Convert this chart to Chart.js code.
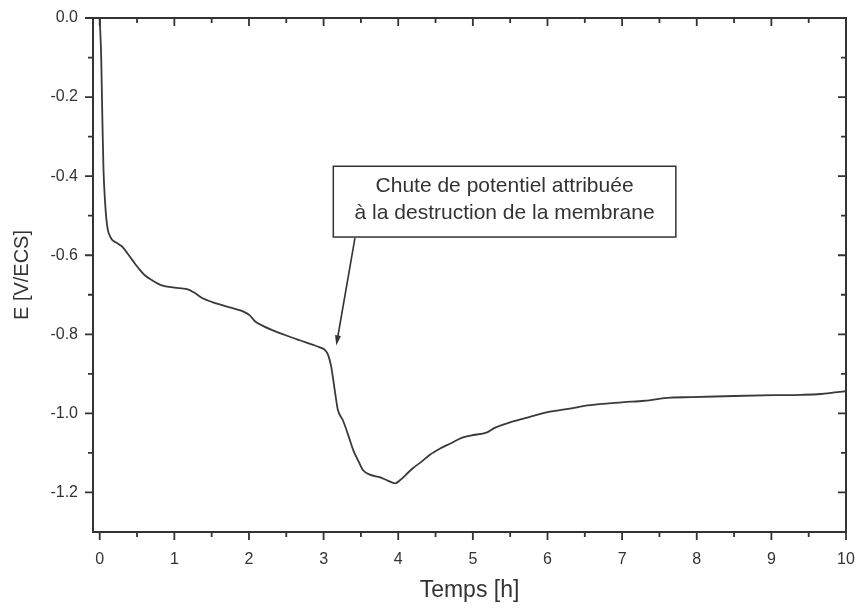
<!DOCTYPE html>
<html>
<head>
<meta charset="utf-8">
<script src="https://cdn.jsdelivr.net/npm/chart.js@4.4.0/dist/chart.umd.min.js"></script>
<style>
  html, body { margin: 0; padding: 0; background: #fff; }
  #wrap { width: 857px; height: 609px; }
</style>
</head>
<body>
<div id="wrap"><canvas id="potChart" width="857" height="609"></canvas></div>
<script>
/* potential vs time readings */
const timeH = [0.00, 0.02, 0.035, 0.05, 0.07, 0.09, 0.11, 0.14, 0.17, 0.22, 0.27, 0.31, 0.37, 0.44, 0.52, 0.60, 0.70, 0.83,
  1.00, 1.17, 1.27, 1.38, 1.50, 1.65, 1.80, 1.92, 2.01, 2.08, 2.20, 2.32, 2.50, 2.68, 2.85, 2.95, 3.02, 3.06, 3.10, 3.13,
  3.16, 3.19, 3.26, 3.33, 3.40, 3.47, 3.53, 3.62, 3.76, 3.86, 3.96, 4.03, 4.12, 4.20, 4.30, 4.42, 4.56, 4.70, 4.85, 4.97,
  5.19, 5.30, 5.46, 5.70, 6.00, 6.30, 6.54, 7.00, 7.30, 7.65, 7.92, 8.50, 9.03, 9.40, 9.66, 9.85, 10.00];
const potentialV = [0.000, -0.10, -0.25, -0.38, -0.46, -0.51, -0.537, -0.553, -0.562, -0.568, -0.574, -0.580, -0.595, -0.613,
  -0.633, -0.650, -0.663, -0.676, -0.682, -0.686, -0.695, -0.709, -0.718, -0.727, -0.735, -0.742, -0.752, -0.767, -0.780,
  -0.790, -0.803, -0.815, -0.826, -0.833, -0.840, -0.852, -0.880, -0.916, -0.955, -0.990, -1.018, -1.055, -1.094, -1.122,
  -1.144, -1.155, -1.162, -1.170, -1.177, -1.168, -1.152, -1.138, -1.124, -1.105, -1.089, -1.076, -1.062, -1.056, -1.048,
  -1.036, -1.025, -1.012, -0.997, -0.988, -0.980, -0.972, -0.968, -0.960, -0.959, -0.956, -0.954, -0.953, -0.951, -0.947,
  -0.944];

/* axis ticks */
const xMajorTicks = [0, 1, 2, 3, 4, 5, 6, 7, 8, 9, 10];
const xMinorTicks = [0.5, 1.5, 2.5, 3.5, 4.5, 5.5, 6.5, 7.5, 8.5, 9.5];
const yMajorTicks = [0.0, -0.2, -0.4, -0.6, -0.8, -1.0, -1.2];
const yMinorTicks = [-0.1, -0.3, -0.5, -0.7, -0.9, -1.1];
const yTickLabels = ['0.0', '-0.2', '-0.4', '-0.6', '-0.8', '-1.0', '-1.2'];

/* callout text + where it sits (data units) */
const noteLines = ['Chute de potentiel attribuée', 'à la destruction de la membrane'];
const noteBox = { x1: 3.13, y1: -0.375, x2: 7.72, y2: -0.554 };
const noteArrow = { x1: 3.42, y1: -0.557, x2: 3.17, y2: -0.828 };

const ink = '#333333';
const family = '"Liberation Sans", Arial, sans-serif';

const framePlugin = {
  id: 'frame',
  afterDraw(chart) {
    const ctx = chart.ctx;
    const a = chart.chartArea;
    const xs = chart.scales.x, ys = chart.scales.y;
    const major = 8, minor = 5;
    ctx.save();
    ctx.strokeStyle = ink;
    ctx.lineWidth = 2;
    ctx.strokeRect(a.left, a.top, a.right - a.left, a.bottom - a.top);
    ctx.lineWidth = 1.8;
    ctx.beginPath();
    function xTick(v, len) {
      const px = xs.getPixelForValue(v);
      ctx.moveTo(px, a.bottom); ctx.lineTo(px, a.bottom + len);   // bottom, outward
      ctx.moveTo(px, a.top); ctx.lineTo(px, a.top + len);         // top, inward
    }
    function yTick(v, len) {
      const py = ys.getPixelForValue(v);
      ctx.moveTo(a.left, py); ctx.lineTo(a.left - len, py);       // left, outward
      ctx.moveTo(a.right, py); ctx.lineTo(a.right - len, py);     // right, inward
    }
    xMajorTicks.forEach(v => xTick(v, major));
    xMinorTicks.forEach(v => xTick(v, minor));
    yMajorTicks.forEach(v => yTick(v, major));
    yMinorTicks.forEach(v => yTick(v, minor));
    ctx.stroke();

    // callout box
    const bx1 = xs.getPixelForValue(noteBox.x1), bx2 = xs.getPixelForValue(noteBox.x2);
    const by1 = ys.getPixelForValue(noteBox.y1), by2 = ys.getPixelForValue(noteBox.y2);
    ctx.fillStyle = '#fff';
    ctx.fillRect(bx1, by1, bx2 - bx1, by2 - by1);
    ctx.lineWidth = 1.5;
    ctx.strokeRect(bx1, by1, bx2 - bx1, by2 - by1);
    ctx.fillStyle = ink;
    ctx.font = '21px ' + family;
    ctx.textAlign = 'center';
    ctx.textBaseline = 'middle';
    const cx = (bx1 + bx2) / 2, h = by2 - by1;
    ctx.fillText(noteLines[0], cx, by1 + h * 0.28);
    ctx.fillText(noteLines[1], cx, by1 + h * 0.67);

    // arrow
    const ax1 = xs.getPixelForValue(noteArrow.x1), ay1 = ys.getPixelForValue(noteArrow.y1);
    const ax2 = xs.getPixelForValue(noteArrow.x2), ay2 = ys.getPixelForValue(noteArrow.y2);
    const ang = Math.atan2(ay2 - ay1, ax2 - ax1);
    ctx.lineWidth = 1.6;
    ctx.beginPath();
    ctx.moveTo(ax1, ay1);
    ctx.lineTo(ax2 - 8 * Math.cos(ang), ay2 - 8 * Math.sin(ang));
    ctx.stroke();
    ctx.beginPath();
    ctx.moveTo(ax2, ay2);
    ctx.lineTo(ax2 - 10 * Math.cos(ang) + 3 * Math.sin(ang), ay2 - 10 * Math.sin(ang) - 3 * Math.cos(ang));
    ctx.lineTo(ax2 - 10 * Math.cos(ang) - 3 * Math.sin(ang), ay2 - 10 * Math.sin(ang) + 3 * Math.cos(ang));
    ctx.closePath();
    ctx.fill();
    ctx.restore();
  }
};

const whiteBg = {
  id: 'whiteBg',
  beforeDraw(chart) {
    const ctx = chart.ctx;
    ctx.save();
    ctx.fillStyle = '#fff';
    ctx.fillRect(0, 0, chart.width, chart.height);
    ctx.restore();
  }
};

const tickFont = { family: family, size: 16 };

new Chart(document.getElementById('potChart').getContext('2d'), {
  type: 'line',
  data: {
    datasets: [{
      data: timeH.map((t, i) => ({ x: t, y: potentialV[i] })),
      borderColor: '#3a3a3a',
      borderWidth: 1.8,
      pointRadius: 0,
      fill: false,
      cubicInterpolationMode: 'monotone'
    }]
  },
  options: {
    responsive: false,
    animation: false,
    layout: { padding: { top: 18, right: 11, bottom: 0, left: 0 } },
    plugins: { legend: { display: false }, tooltip: { enabled: false } },
    scales: {
      x: {
        type: 'linear',
        min: -0.09,
        max: 10,
        afterBuildTicks(scale) { scale.ticks = xMajorTicks.map(v => ({ value: v })); },
        afterFit(scale) { scale.height = 77; scale.paddingLeft = 0; scale.paddingRight = 0; },
        grid: { display: false },
        border: { display: false },
        ticks: { color: ink, font: tickFont, padding: 10, maxRotation: 0, callback: v => String(v) },
        title: {
          display: true, text: 'Temps [h]', color: ink,
          font: { family: family, size: 23 },
          padding: { top: 0, bottom: 5 }
        }
      },
      y: {
        type: 'linear',
        min: -1.3,
        max: 0,
        afterBuildTicks(scale) { scale.ticks = yMajorTicks.map(v => ({ value: v })); },
        afterFit(scale) { scale.width = 93; scale.paddingTop = 0; scale.paddingBottom = 0; },
        grid: { display: false },
        border: { display: false },
        ticks: {
          color: ink, font: tickFont, padding: 7,
          callback: (v, i) => yTickLabels[i]
        },
        title: {
          display: true, text: 'E [V/ECS]', color: ink,
          font: { family: family, size: 20 },
          padding: { top: 10, bottom: 0 }
        }
      }
    }
  },
  plugins: [whiteBg, framePlugin]
});
</script>
</body>
</html>
